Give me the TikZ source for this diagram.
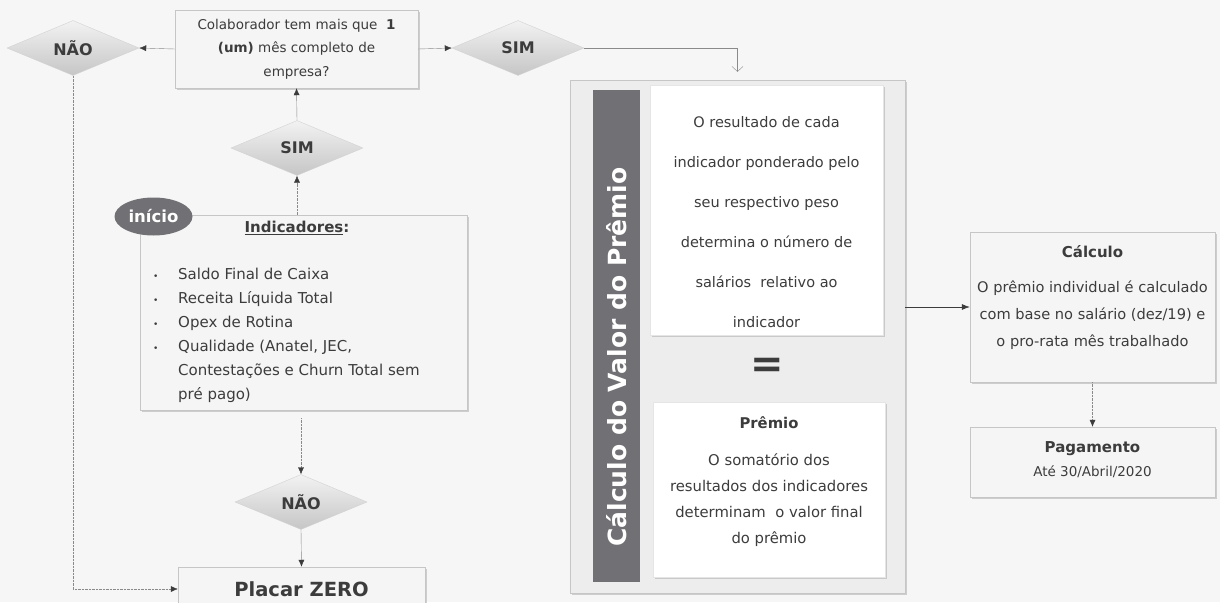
\documentclass[tikz,border=0pt]{standalone}
\usepackage{fontspec}
\setmainfont{DejaVu Sans}
\usepackage{xcolor}
\usetikzlibrary{arrows,arrows.meta,shapes,shapes.geometric,shadows}
\definecolor{fundo}{HTML}{F6F6F6}
\definecolor{texto}{HTML}{3C3C3C}
\definecolor{barra}{HTML}{717175}
\definecolor{linha}{HTML}{8A8A8A}
\newcommand{\tam}[2]{\fontsize{#1}{#2}\selectfont}
\newcommand{\marca}{\makebox[25pt][l]{\tam{9}{9}\textbullet}}
\tikzstyle{caixa}=[draw=gray!45, fill=gray!8, inner sep=0pt, text=texto, drop shadow={shadow xshift=1.5pt, shadow yshift=-2pt, fill=gray!70, opacity=.5}]
\tikzstyle{branca}=[draw=gray!20, fill=white, inner sep=0pt, drop shadow={shadow xshift=1.5pt, shadow yshift=-2pt, fill=gray!70, opacity=.5}]
\tikzstyle{losango}=[diamond, aspect=2.4, minimum width=132pt, minimum height=55pt, inner sep=0pt, top color=gray!10, bottom color=gray!45, draw=gray!35, text=texto, font=\tam{16}{16}\bfseries]
\tikzstyle{seta}=[-{Latex[length=7pt,width=6pt,color=texto]}, draw=linha, thin]
\tikzstyle{pontos}=[-{Latex[length=7pt,width=6pt,color=texto]}, draw=linha, thin, densely dotted]
\newcommand{\decisao}[3]{
	\node[losango] (#1) at #2 {#3};
}

\begin{document}
\begin{tikzpicture}[x=1pt, y=-1pt]
	\fill[fundo] (0,0) rectangle (1220,602);
	\useasboundingbox (0,0) rectangle (1220,602);
	\node[caixa, minimum width=243, minimum height=78, align=center, font=\tam{13.5}{23.5}] (pergunta) at (296.5,49) {Colaborador tem mais que~~\textbf{1}\\\textbf{(um)} mês completo de\\empresa?};
	\decisao{nao1}{(73,48)}{NÃO}
	\decisao{sim1}{(518,48)}{SIM}
	\decisao{sim2}{(297,148)}{SIM}
	\decisao{nao2}{(301,502)}{NÃO}
	% indicadores
	\node[caixa, minimum width=327, minimum height=195] (ind) at (303.5,312.5) {};
	\node[text=texto, font=\tam{15}{15}\bfseries] (indtit) at (297,228) {\underline{Indicadores}:};
	\node[anchor=west, align=left, inner sep=0pt, text=texto, font=\tam{15}{24}] (indlst) at (153,335) {\marca Saldo Final de Caixa\\\marca Receita Líquida Total\\\marca Opex de Rotina\\\marca Qualidade (Anatel, JEC,\\\hspace*{25pt}Contestações e Churn Total sem\\\hspace*{25pt}pré pago)};
	\node[ellipse, fill=barra, minimum width=78, minimum height=38, inner sep=0pt, text=white, font=\tam{16.5}{16}\bfseries] (inicio) at (153.5,216.5) {início};
	\node[caixa, minimum width=247, minimum height=44, font=\tam{19.5}{20}\bfseries] (placar) at (301.5,589) {Placar ZERO};
	% valor do premio
	\node[caixa, minimum width=335, minimum height=513, fill=gray!14] (moldura) at (737.5,336.5) {};
	\node[fill=barra, minimum width=47, minimum height=492, inner sep=0pt] (barra) at (616.5,336) {};
	\node[rotate=90, text=white, font=\tam{25}{25}\bfseries] (titulo) at (616.5,357) {Cálculo do Valor do Prêmio};
	\node[branca, minimum width=233, minimum height=250] (res) at (766.5,210) {};
	\node[align=center, text=texto, font=\tam{14.5}{40}] (restxt) at (766.5,222) {O resultado de cada\\indicador ponderado pelo\\seu respectivo peso\\determina o número de\\salários~ relativo ao\\indicador};
	\node[text=texto, font=\tam{40}{40}\bfseries] (igual) at (767,368) {=};
	\node[branca, minimum width=232, minimum height=175] (prem) at (769,489.5) {};
	\node[align=center, text=texto, font=\tam{14.8}{26}] (premtxt) at (769,482) {{\bfseries Prêmio}\\[11pt]O somatório dos\\resultados dos indicadores\\determinam~ o valor final\\do prêmio};
	% calculo e pagamento
	\node[caixa, minimum width=245, minimum height=150] (calc) at (1092.5,307) {};
	\node[align=center, text=texto, font=\tam{14.6}{27}] (calctxt) at (1092.5,298) {{\bfseries\tam{15}{27}Cálculo}\\[8pt]O prêmio individual é calculado\\com base no salário (dez/19) e\\o pro-rata mês trabalhado};
	\node[caixa, minimum width=245, minimum height=70] (pag) at (1092.5,462) {};
	\node[align=center, text=texto, font=\tam{13.5}{24}] (pagtxt) at (1092.5,460) {{\bfseries\tam{15}{24}Pagamento}\\Até 30/Abril/2020};
	% ligacoes
	\draw[seta] (pergunta.west) -- (nao1.east);
	\draw[seta] (pergunta.east) -- (sim1.west);
	\draw[seta] (sim2.north) -- (pergunta.south);
	\draw[pontos] (sim2.south |- ind.north) -- (sim2.south);
	\draw[pontos, shorten <=8pt] (nao2.north |- ind.south) -- (nao2.north);
	\draw[seta] (nao2.south) -- (placar.north);
	\draw[pontos] (nao1.south) |- (placar.west);
	\draw[-{Straight Barb[length=5pt,width=11pt]}, draw=linha, thin, shorten >=8pt] (sim1.east) -| (moldura.north);
	\draw[-{Latex[length=8pt,width=6pt]}, draw=texto, semithick] (moldura.east |- calc.west) -- (calc.west);
	\draw[pontos] (calc.south) -- (pag.north);
\end{tikzpicture}
\end{document}
